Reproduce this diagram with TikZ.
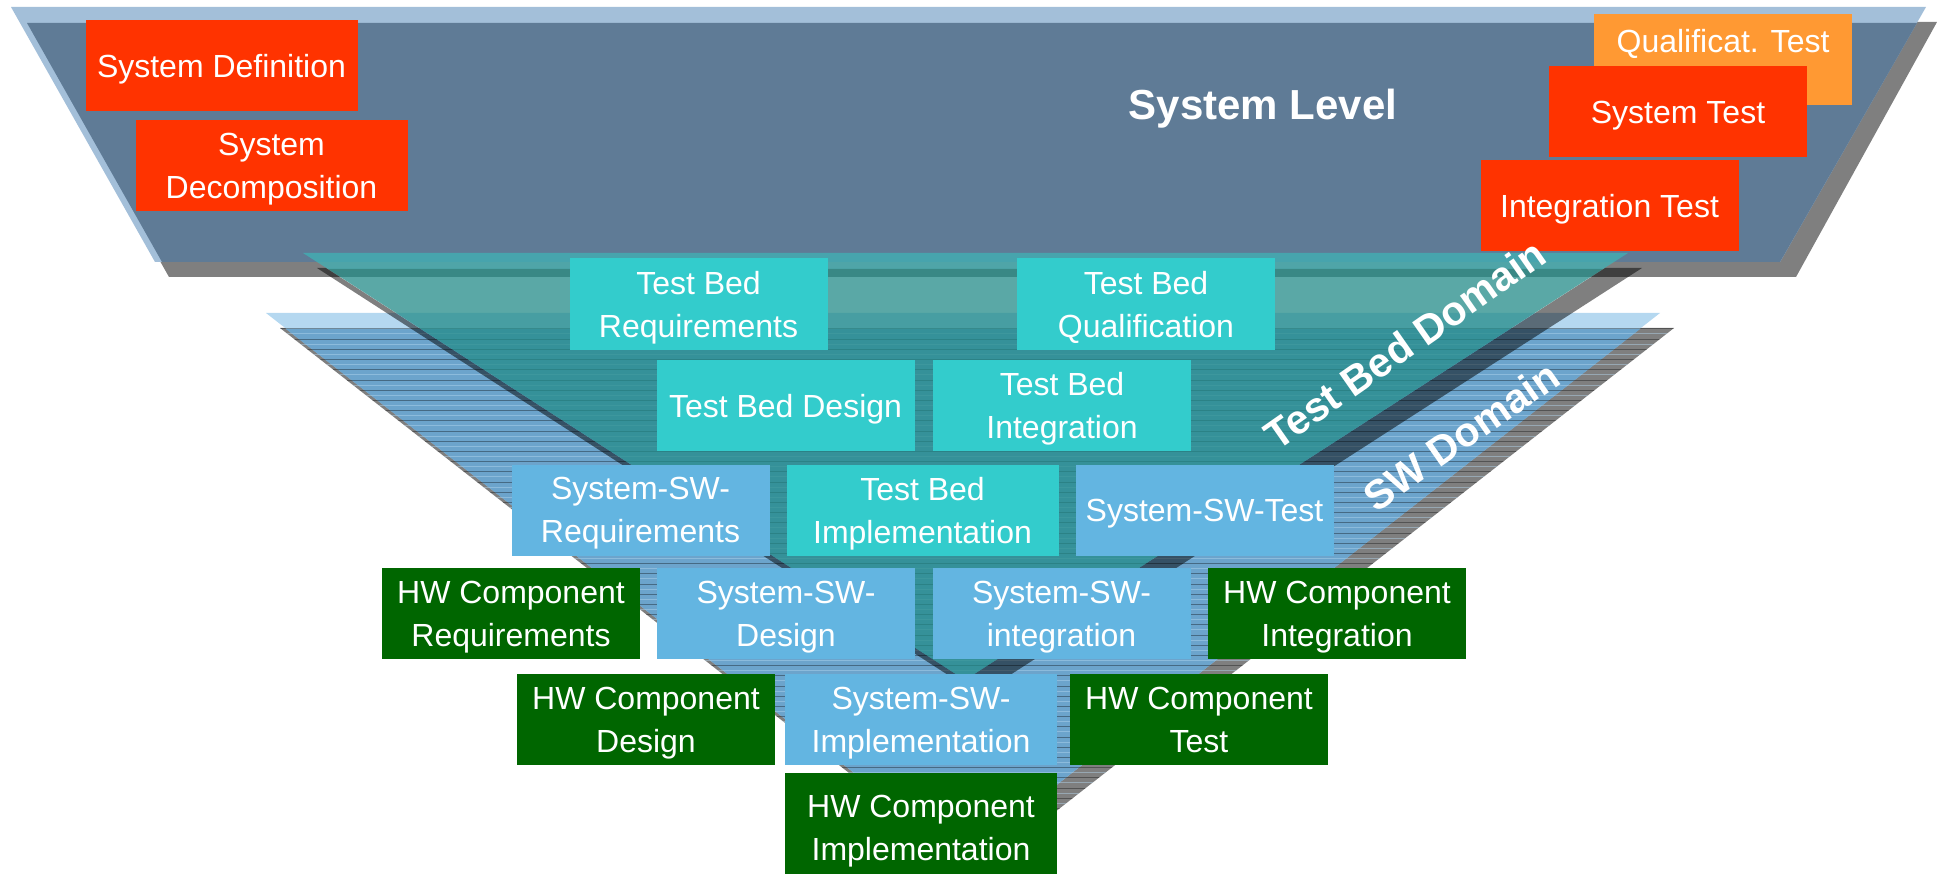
\documentclass[tikz,border=0pt]{standalone}
\usepackage{fontspec}
\setmainfont{Liberation Sans}
\definecolor{sysred}{RGB}{255,51,0}
\definecolor{qualorange}{RGB}{255,153,51}
\definecolor{tbcyan}{RGB}{51,204,204}
\definecolor{swblue}{RGB}{99,181,225}
\definecolor{hwgreen}{RGB}{0,102,0}
\definecolor{slatebody}{RGB}{95,123,150}
\definecolor{slatelight}{RGB}{163,191,217}
\definecolor{swlight}{RGB}{181,216,240}
\definecolor{swbody}{RGB}{108,164,204}
\definecolor{tealbody}{RGB}{35,139,136}
\definecolor{teallight}{RGB}{64,178,182}
\begin{document}
\begin{tikzpicture}[x=1pt,y=-1pt,
  stage box/.style={rectangle,minimum width=258pt,minimum height=91pt,inner sep=0pt,text=white,align=center,text depth=0pt,font=\fontsize{32}{43}\selectfont},
  wide/.style={minimum width=272pt},
  sys node/.style={stage box,fill=sysred},
  qual node/.style={stage box,fill=qualorange},
  tb node/.style={stage box,fill=tbcyan},
  sw node/.style={stage box,fill=swblue},
  hw node/.style={stage box,fill=hwgreen},
  shade/.style={fill=black,opacity=.5},
  domain text/.style={text=white,inner sep=0pt,rotate=35,font=\fontsize{41}{41}\selectfont\bfseries}]
 		\useasboundingbox (0,0) rectangle (1937,874);
 		
 		% system level
 		\fill[shade] (25,22) -- (1937,22) -- (1796,277) -- (169,277) -- cycle;
 		\fill[slatelight] (11,7) -- (1926,7) -- (1780,262) -- (155,262) -- cycle;
 		\fill[slatebody] (27,23) -- (1917,23) -- (1780,262) -- (162,262) -- cycle;
 		
 		% SW domain
 		\fill[shade] (280,328) -- (1674,328) -- (977,873) -- cycle;
 		\fill[swlight] (266,313) -- (1660,313) -- (963,858) -- cycle;
 		\fill[swbody] (286,329) -- (1640,329) -- (963,858) -- cycle;
 		\begin{scope}
 		\clip (280,328) -- (1674,328) -- (977,873) -- cycle (286,329) -- (1640,329) -- (963,858) -- cycle;
 		\foreach \k in {0,...,53} {
 			\draw[black,opacity=.35,line width=1pt] (250,{329+10.2*\k}) -- (1700,{329+10.2*\k});
 			\draw[swlight,opacity=.45,line width=1pt] (250,{334+10.2*\k}) -- (1700,{334+10.2*\k});
 		}
 		\end{scope}
 		
 		% test bed domain
 		\fill[black,opacity=.5] (1605,268) -- (1642,268) -- (979,695) -- (965,680) -- cycle;
 		\fill[black,opacity=.5] (317,268) -- (326,268) -- (965,680) -- (979,695) -- cycle;
 		\fill[teallight,opacity=.75] (303,253) -- (1628,253) -- (1603,269) -- (328,269) -- cycle;
 		\fill[tealbody,opacity=.75] (328,269) -- (1603,269) -- (965,680) -- cycle;
 		
 		\node[sys node,wide] (sysdef) at (221.5,65.5) {System Definition};
 		\node[sys node,wide] (sysdec) at (271.5,165.5) {System\\Decomposition};
 		\node[qual node,text depth=38pt] (qualtest) at (1723,59.5) {Qualificat. Test};
 		\node[sys node] (systest) at (1678,112) {System Test};
 		\node[sys node] (inttest) at (1609.5,205.5) {Integration Test};
 		
 		\node[tb node] (tbreq) at (698.5,304) {Test Bed\\Requirements};
 		\node[tb node] (tbqual) at (1146,304) {Test Bed\\Qualification};
 		\node[tb node] (tbdes) at (785.5,405.5) {Test Bed Design};
 		\node[tb node] (tbint) at (1062,405.5) {Test Bed\\Integration};
 		\node[sw node] (swreq) at (640.5,510) {System-SW-\\Requirements};
 		\node[tb node,wide] (tbimpl) at (922.5,510) {Test Bed\\Implementation};
 		\node[sw node] (swtest) at (1204.5,510) {System-SW-Test};
 		
 		\node[hw node] (hwreq) at (511,613.5) {HW Component\\Requirements};
 		\node[sw node] (swdes) at (786,613.5) {System-SW-\\Design};
 		\node[sw node] (swint) at (1061.5,613.5) {System-SW-\\integration};
 		\node[hw node] (hwint) at (1337,613.5) {HW Component\\Integration};
 		\node[hw node] (hwdes) at (646,719.5) {HW Component\\Design};
 		\node[sw node,wide] (swimpl) at (921,719.5) {System-SW-\\Implementation};
 		\node[hw node] (hwtest) at (1199,719.5) {HW Component\\Test};
 		\node[hw node,wide,minimum height=110pt] (hwimpl) at (921,828) {HW Component\\Implementation};
 		
 		\node[text=white,inner sep=0pt,anchor=base,font=\fontsize{42}{42}\selectfont\bfseries] (syslevel) at (1263,120) {System Level};
 		\node[domain text] (tbdomain) at (1405,344) {Test Bed Domain};
 		\node[domain text] (swdomain) at (1461,436) {SW Domain};
 		\end{tikzpicture}
\end{document}
